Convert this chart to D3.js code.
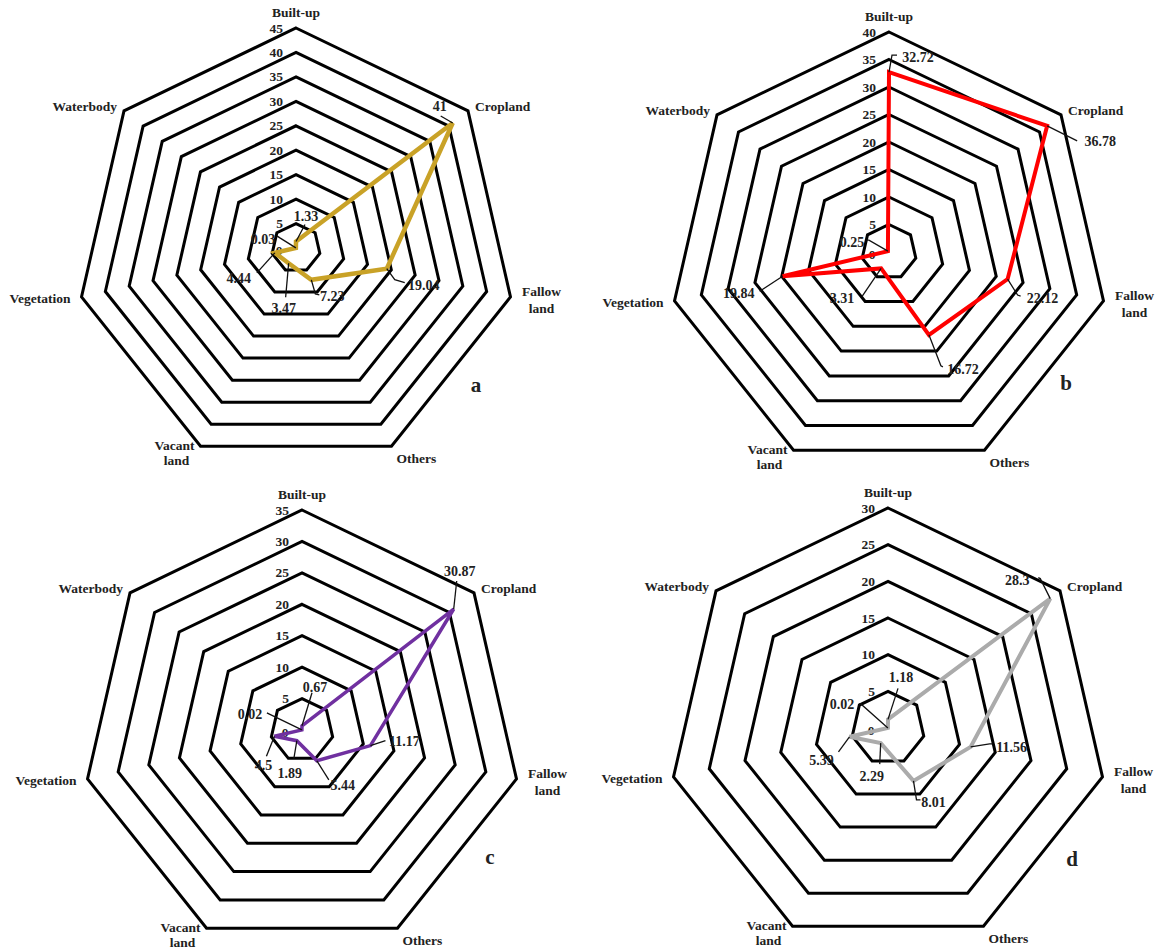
<!DOCTYPE html>
<html>
<head>
<meta charset="utf-8">
<script src="https://cdn.jsdelivr.net/npm/d3@7/dist/d3.min.js"></script>
<style>
  html, body { margin: 0; padding: 0; background: #fff; }
  svg { display: block; }
  text { font-family: "Liberation Serif", "Times New Roman", serif; font-weight: bold; fill: #222; }
</style>
</head>
<body>
<svg id="chart" width="1165" height="951"></svg>
<script>
// ---------------- DATA ----------------
const categories = ["Built-up", "Cropland", "Fallow land", "Others", "Vacant land", "Vegetation", "Waterbody"];
const panelNames = ["a", "b", "c", "d"];
const valuesA = [1.33, 41, 19.04, 7.23, 3.47, 4.44, 0.03];
const valuesB = [32.72, 36.78, 22.12, 16.72, 3.31, 19.84, 0.25];
const valuesC = [0.67, 30.87, 11.17, 5.44, 1.89, 4.5, 0.02];
const valuesD = [1.18, 28.3, 11.56, 8.01, 2.29, 5.39, 0.02];
const ticksA = [0, 5, 10, 15, 20, 25, 30, 35, 40, 45];
const ticksB = [0, 5, 10, 15, 20, 25, 30, 35, 40];
const ticksC = [0, 5, 10, 15, 20, 25, 30, 35];
const ticksD = [0, 5, 10, 15, 20, 25, 30];

// ---------------- LAYOUT / STYLE ----------------
const R = 220;
const panels = [
  { name: "a", values: valuesA, ticks: ticksA, cx: 296, cy: 248, color: "#C9A227", width: 4.5, letter: [476, 392],
    // label offsets relative to data point: [textDx, textDy(center), leader points...]
    labels: [
      [10, -26, [[9, -17]]],
      [-13, -17, [[-12, -7]]],
      [37, 16, [[8, 11], [18, 14]]],
      [21, 16, [[4, 14], [8, 15]]],
      [-5, 45, [[-3, 34]]],
      [-36, 25, [[-18, 20]]],
      [-33, -9, [[-16, -10], [-19, -12]]]
    ] },
  { name: "b", values: valuesB, ticks: ticksB, cx: 889, cy: 252, color: "#FF0000", width: 4, letter: [1066, 390],
    labels: [
      [29, -15, [[3, -17], [8, -17]]],
      [53, 15, [[30, 15]]],
      [35, 19, [[10, 16], [13, 17]]],
      [34, 34, [[12, 31], [14, 32]]],
      [-39, 30, [[-19, 28]]],
      [-44, 17, [[-23, 15]]],
      [-36, -9, [[-19, -11], [-21, -11]]]
    ] },
  { name: "c", values: valuesC, ticks: ticksC, cx: 302, cy: 730, color: "#7030A0", width: 3.5, letter: [490, 864],
    labels: [
      [13, -39, [[10, -33]]],
      [6, -38, [[3, -28]]],
      [34, -5, [[15, -5]]],
      [26, 24, [[12, 19]]],
      [-7, 32, [[-3, 18]]],
      [-11, 29, [[-8, 20]]],
      [-52, -16, [[-33, -16], [-35, -17]]]
    ] },
  { name: "d", values: valuesD, ticks: ticksD, cx: 888, cy: 728, color: "#ABABAB", width: 4, letter: [1072, 866],
    labels: [
      [13, -42, [[10, -31]]],
      [-33, -19, [[-10, -20], [-12, -21]]],
      [41, 0, [[19, -3], [22, -3]]],
      [20, 21, [[3, 19], [7, 19]]],
      [-9, 33, [[-1, 21]]],
      [-28, 23, [[-11, 15]]],
      [-46, -24, [[-27, -24], [-29, -24]]]
    ] }
];

const svg = d3.select("#chart");
const angle = d3.scaleLinear().domain([0, categories.length]).range([0, 2 * Math.PI]);

function pt(r, i) {
  const a = angle(i);
  return [r * Math.sin(a), -r * Math.cos(a)];
}

panels.forEach(p => {
  const maxV = d3.max(p.ticks);
  const rScale = d3.scaleLinear().domain([0, maxV]).range([0, R]);
  const g = svg.append("g").attr("transform", `translate(${p.cx},${p.cy})`);

  const ring = d3.lineRadial()
    .angle((d, i) => angle(i))
    .radius(d => d)
    .curve(d3.curveLinearClosed);

  // grid rings
  const ringTicks = p.ticks.filter(t => t > 0);
  g.selectAll("path.ring").data(ringTicks).join("path")
    .attr("class", "ring")
    .attr("d", t => ring(categories.map(() => rScale(t))))
    .attr("fill", "none").attr("stroke", "#000").attr("stroke-width", 3)
    .attr("stroke-linejoin", "miter");

  // tick labels
  g.selectAll("text.tick").data(p.ticks).join("text")
    .attr("class", "tick")
    .attr("x", t => t === 0 ? -17 : -13)
    .attr("y", t => t === 0 ? 7 : -rScale(t) + 4.5)
    .attr("text-anchor", t => t === 0 ? "middle" : "end")
    .attr("font-size", 13.5)
    .text(t => t);

  // series
  const line = d3.lineRadial()
    .angle((d, i) => angle(i))
    .radius(d => rScale(d))
    .curve(d3.curveLinearClosed);
  g.append("path").attr("d", line(p.values))
    .attr("fill", "none").attr("stroke", p.color).attr("stroke-width", p.width)
    .attr("stroke-linejoin", "miter");

  // data labels with leader lines
  p.values.forEach((v, i) => {
    const [x, y] = pt(rScale(v), i);
    const lab = p.labels[i];
    const pts = [[x, y]].concat(lab[2].map(q => [x + q[0], y + q[1]]));
    g.append("path").attr("d", d3.line()(pts))
      .attr("fill", "none").attr("stroke", "#111").attr("stroke-width", 1.3);
    g.append("text")
      .attr("x", x + lab[0]).attr("y", y + lab[1] + 5)
      .attr("text-anchor", "middle").attr("font-size", 14)
      .text(v);
  });

  // category labels
  const cat = (i) => pt(R, i);
  const fs = 13.5;
  let [x, y] = cat(0);
  g.append("text").attr("x", x).attr("y", y - 11).attr("text-anchor", "middle").attr("font-size", fs).text(categories[0]);
  [x, y] = cat(1);
  g.append("text").attr("x", x + 7).attr("y", y).attr("text-anchor", "start").attr("font-size", fs).text(categories[1]);
  [x, y] = cat(2);
  g.append("text").attr("x", x + 31).attr("y", y - 1).attr("text-anchor", "middle").attr("font-size", fs).text("Fallow");
  g.append("text").attr("x", x + 31).attr("y", y + 16).attr("text-anchor", "middle").attr("font-size", fs).text("land");
  [x, y] = cat(3);
  g.append("text").attr("x", x + 25).attr("y", y + 17).attr("text-anchor", "middle").attr("font-size", fs).text(categories[3]);
  [x, y] = cat(4);
  g.append("text").attr("x", x - 26).attr("y", y + 4).attr("text-anchor", "middle").attr("font-size", fs).text("Vacant");
  g.append("text").attr("x", x - 24).attr("y", y + 19).attr("text-anchor", "middle").attr("font-size", fs).text("land");
  [x, y] = cat(5);
  g.append("text").attr("x", x - 11).attr("y", y + 6).attr("text-anchor", "end").attr("font-size", fs).text(categories[5]);
  [x, y] = cat(6);
  g.append("text").attr("x", x - 7).attr("y", y).attr("text-anchor", "end").attr("font-size", fs).text(categories[6]);

  // panel letter
  svg.append("text").attr("x", p.letter[0]).attr("y", p.letter[1])
    .attr("text-anchor", "middle").attr("font-size", 21).text(p.name);
});
</script>
</body>
</html>
